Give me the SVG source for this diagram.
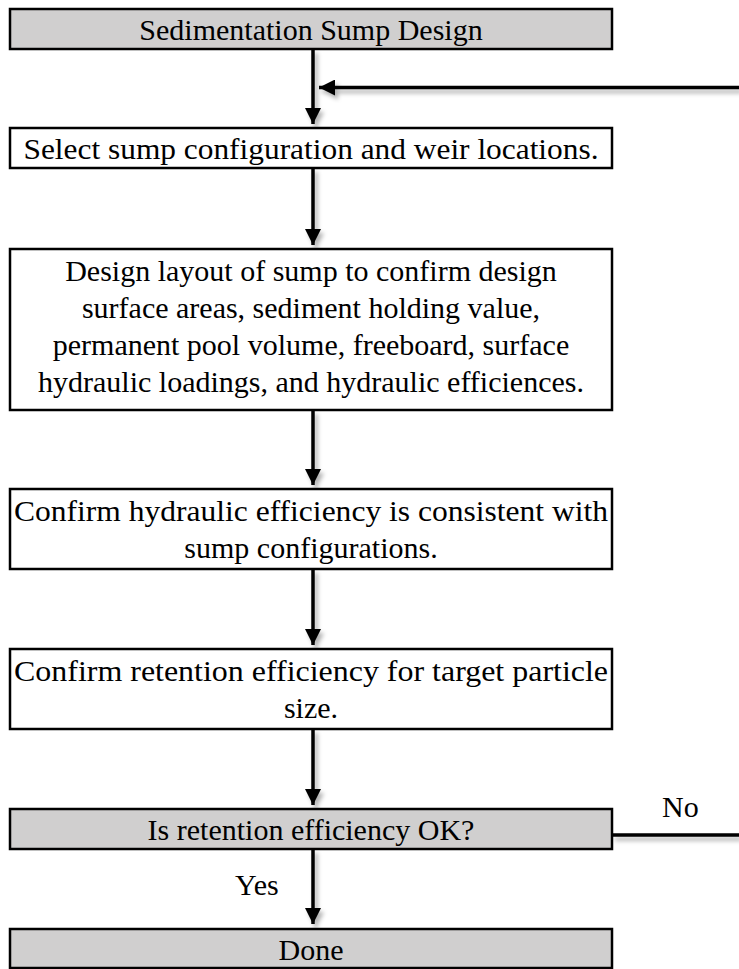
<svg xmlns="http://www.w3.org/2000/svg" width="739" height="969" viewBox="0 0 739 969">
  <style>
    .box { fill: #ffffff; stroke: #000000; stroke-width: 2.5; }
    .grey { fill: #d0cfcf; }
    .t { font-family: "Liberation Serif", "Times New Roman", serif; font-size: 30px; fill: #000000; text-anchor: middle; }
    .lbl { font-family: "Liberation Serif", "Times New Roman", serif; font-size: 30px; fill: #000000; }
    .conn { fill: none; stroke: #000000; stroke-width: 3.5; }
  </style>
  <defs>
    <marker id="arrow" markerUnits="userSpaceOnUse" markerWidth="16" markerHeight="16" viewBox="0 0 16 16" refX="16" refY="8" orient="auto">
      <path d="M0,0 L16,8 L0,16 Z" fill="#000000"/>
    </marker>
    <filter id="shadow" x="-20%" y="-20%" width="140%" height="140%">
      <feDropShadow dx="3" dy="4" stdDeviation="2.2" flood-color="#000000" flood-opacity="0.3"/>
    </filter>
  </defs>

  <rect width="739" height="969" fill="#ffffff"/>

  <g id="connectors" filter="url(#shadow)">
    <path class="conn" d="M313,49 L313,124" marker-end="url(#arrow)"/>
    <path class="conn" d="M739,87.5 L319,87.5" marker-end="url(#arrow)"/>
    <path class="conn" d="M313,168 L313,245" marker-end="url(#arrow)"/>
    <path class="conn" d="M313,410 L313,485" marker-end="url(#arrow)"/>
    <path class="conn" d="M313,569 L313,645" marker-end="url(#arrow)"/>
    <path class="conn" d="M313,729 L313,805" marker-end="url(#arrow)"/>
    <path class="conn" d="M313,849 L313,924" marker-end="url(#arrow)"/>
    <path class="conn" d="M612,835 L739,835"/>
  </g>

  <g id="start">
    <rect class="box grey" x="10" y="9" width="602" height="40"/>
    <text class="t" x="311" y="40">Sedimentation Sump Design</text>
  </g>

  <g id="select">
    <rect class="box" x="10" y="128" width="602" height="40"/>
    <text class="t" x="311" y="159" textLength="575" lengthAdjust="spacingAndGlyphs">Select sump configuration and weir locations.</text>
  </g>

  <g id="layout">
    <rect class="box" x="10" y="249" width="602" height="161"/>
    <text class="t" x="311" y="281">Design layout of sump to confirm design</text>
    <text class="t" x="311" y="318">surface areas, sediment holding value,</text>
    <text class="t" x="311" y="355">permanent pool volume, freeboard, surface</text>
    <text class="t" x="311" y="392">hydraulic loadings, and hydraulic efficiences.</text>
  </g>

  <g id="hydraulic">
    <rect class="box" x="10" y="489" width="602" height="80"/>
    <text class="t" x="311" y="521" textLength="594" lengthAdjust="spacingAndGlyphs">Confirm hydraulic efficiency is consistent with</text>
    <text class="t" x="311" y="558">sump configurations.</text>
  </g>

  <g id="retention">
    <rect class="box" x="10" y="649" width="602" height="80"/>
    <text class="t" x="311" y="681" textLength="594" lengthAdjust="spacingAndGlyphs">Confirm retention efficiency for target particle</text>
    <text class="t" x="311" y="718">size.</text>
  </g>

  <g id="decision">
    <rect class="box grey" x="10" y="809" width="602" height="40"/>
    <text class="t" x="311" y="840">Is retention efficiency OK?</text>
    <text class="lbl" x="662" y="817">No</text>
    <text class="lbl" x="235" y="895">Yes</text>
  </g>

  <g id="done">
    <rect class="box grey" x="10" y="929" width="602" height="39"/>
    <text class="t" x="311" y="960">Done</text>
  </g>
</svg>
